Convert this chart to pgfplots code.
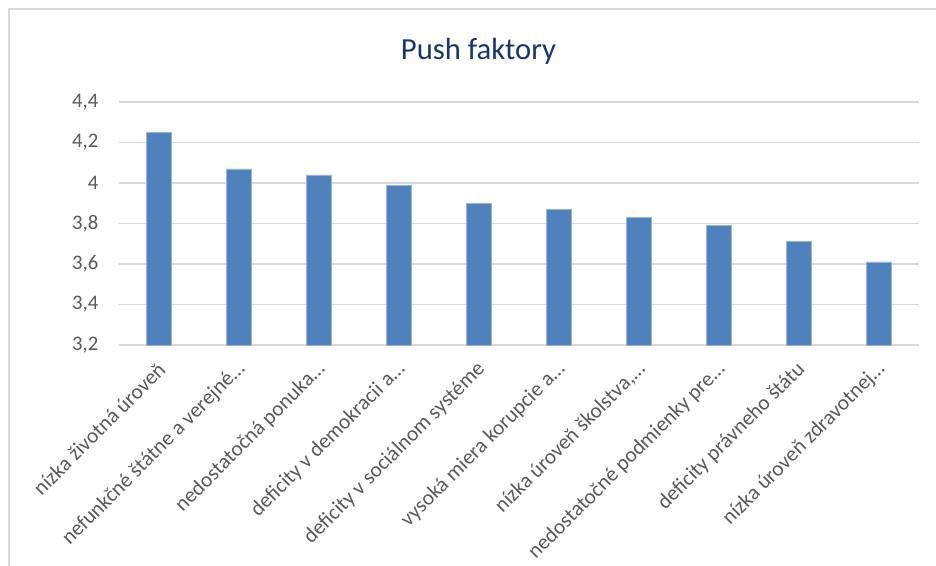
\documentclass[border=0pt]{standalone}
\usepackage{pgfplots}
\pgfplotsset{compat=1.18}
\usepackage{fontspec}
\setmainfont{Carlito}
\definecolor{barblue}{RGB}{79,129,189}
\definecolor{baredge}{RGB}{150,180,218}
\definecolor{gridgray}{RGB}{217,217,217}
\definecolor{labgray}{RGB}{89,89,89}
\definecolor{titleblue}{RGB}{23,54,110}
\begin{document}
\begin{tikzpicture}
\useasboundingbox (0pt,0pt) rectangle (702pt,424.5pt);
\draw[gridgray, line width=1.5pt] (6.375pt,0pt) -- (6.375pt,417.75pt) -- (702pt,417.75pt);
\node[anchor=base, text=titleblue, font=\fontsize{23}{27}\selectfont, inner sep=0pt] at (358.875pt,379.5pt) {Push faktory};
\begin{axis}[
  at={(89.25pt,165.75pt)}, anchor=south west,
  scale only axis, width=600pt, height=182.25pt,
  xmin=-0.5, xmax=9.5, ymin=3.2, ymax=4.4,
  ytick={3.2,3.4,3.6,3.8,4.0,4.2,4.4},
  yticklabels={{3,2},{3,4},{3,6},{3,8},{4},{4,2},{4,4}},
  xtick={0,1,2,3,4,5,6,7,8,9},
  xticklabels={
    nízka životná úroveň,
    nefunkčné štátne a verejné…,
    nedostatočná ponuka…,
    deficity v demokracii a…,
    deficity v sociálnom systéme,
    vysoká miera korupcie a…,
    {nízka úroveň školstva,…},
    nedostatočné podmienky pre…,
    deficity právneho štátu,
    nízka úroveň zdravotnej…},
  axis line style={draw=none},
  major tick length=0pt,
  ymajorgrids,
  major grid style={gridgray, line width=1.1pt},
  yticklabel style={text=labgray, font=\fontsize{15.5}{18}\selectfont, anchor=east, xshift=-12pt},
  xticklabel style={text=labgray, font=\fontsize{16}{19}\selectfont, rotate=45, anchor=east, xshift=-6.2pt, yshift=-12.6pt},
  ybar, bar width=0.3125, bar shift=0pt,
  clip=false,
]
\addplot[fill=barblue, draw=baredge, line width=0.4pt] coordinates {
  (0,4.25) (1,4.07) (2,4.04) (3,3.99) (4,3.90)
  (5,3.87) (6,3.83) (7,3.79) (8,3.71) (9,3.61)};
\end{axis}
\end{tikzpicture}
\end{document}
